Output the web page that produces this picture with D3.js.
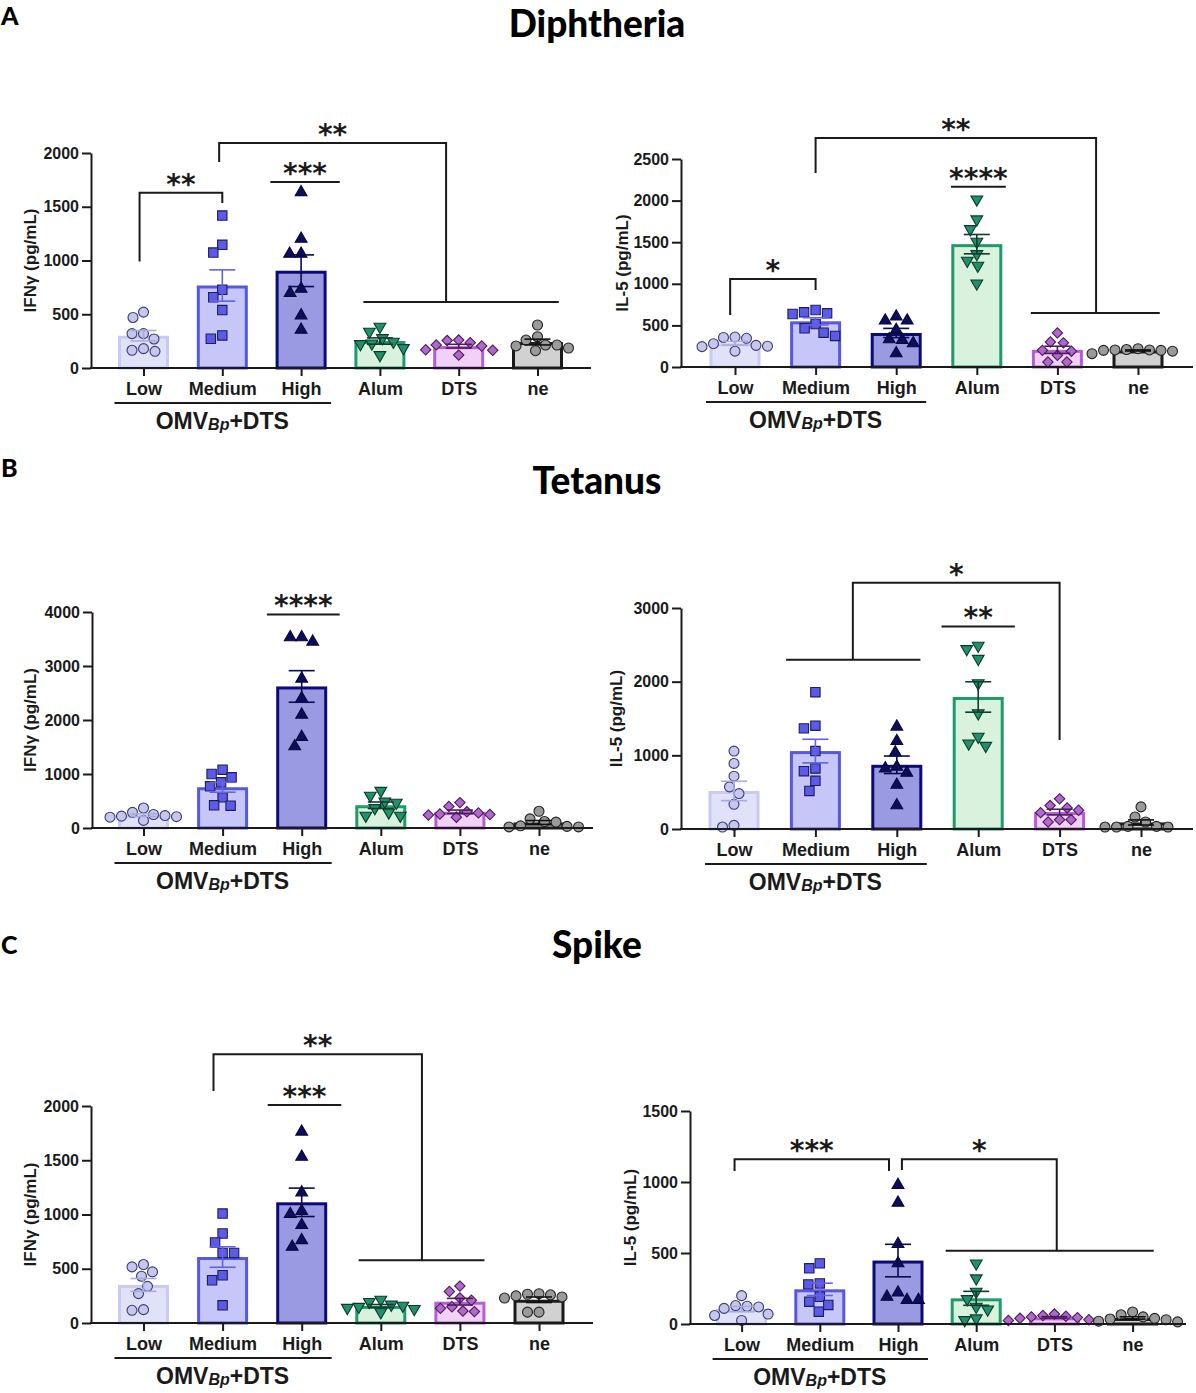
<!DOCTYPE html>
<html>
<head>
<meta charset="utf-8">
<script src="https://cdn.jsdelivr.net/npm/d3@7"></script>
<style>
  body { margin: 0; background: #fff; }
  svg { display: block; }
  .tick text { font-family: "Liberation Sans", Arial, sans-serif; font-weight: bold; fill: #1a1a1a; }
</style>
</head>
<body>
<div id="chart"></div>
<script>
// ---- data ----
const categories = ["Low", "Medium", "High", "Alum", "DTS", "ne"];

const diphIFNg = [
  [520, 470, 320, 320, 270, 180, 165, 155],
  [1418, 1146, 1074, 728, 659, 539, 303, 272],
  [1635, 1201, 1062, 1062, 737, 697, 489, 356],
  [384, 338, 279, 245, 229, 223, 186, 121],
  [260, 255, 235, 215, 205, 170, 165, 120],
  [400, 291, 260, 214, 214, 205, 186, 161]
];
const diphIL5 = [
  [360, 355, 345, 280, 260, 250, 245, 190],
  [685, 657, 645, 637, 517, 465, 413, 373],
  [605, 557, 557, 445, 333, 325, 284, 164],
  [2015, 1775, 1658, 1506, 1358, 1278, 1218, 1005],
  [410, 300, 290, 200, 190, 140, 60, 60],
  [220, 210, 205, 205, 200, 200, 190, 160]
];
const tetIFNg = [
  [370, 290, 250, 230, 220, 210, 200, 140],
  [1080, 1000, 938, 846, 772, 568, 420, 413],
  [3530, 3530, 3450, 2765, 2400, 2098, 1685, 1512],
  [690, 600, 490, 470, 370, 290, 230, 230],
  [470, 400, 300, 280, 260, 250, 240, 200],
  [310, 170, 120, 110, 40, 30, 20, 20]
];
const tetIL5 = [
  [1058, 890, 717, 572, 481, 336, 50, 27],
  [1857, 1403, 1366, 1058, 822, 785, 654, 517],
  [1389, 1194, 1039, 844, 822, 763, 600, 322],
  [2488, 2443, 2311, 1979, 1571, 1253, 1162, 1130],
  [409, 318, 286, 254, 222, 127, 127, 95],
  [300, 163, 95, 36, 36, 27, 27, 27]
];
const spikeIFNg = [
  [539, 517, 471, 431, 338, 271, 123, 117],
  [1009, 825, 742, 646, 646, 440, 394, 163],
  [1763, 1532, 1203, 1031, 1003, 902, 763, 702],
  [215, 195, 170, 160, 150, 140, 130, 100],
  [340, 290, 230, 210, 150, 135, 110, 105],
  [270, 265, 260, 250, 240, 230, 100, 100]
];
const spikeIL5 = [
  [200, 130, 125, 120, 110, 70, 60, 25],
  [427, 392, 286, 279, 192, 157, 134, 87],
  [979, 854, 563, 427, 221, 192, 169, 169],
  [427, 322, 228, 176, 122, 103, 40, 28],
  [70, 60, 55, 50, 45, 40, 30, 25],
  [85, 65, 50, 40, 35, 30, 20, 15]
];

// significance marks: points are [category index, value]
const diphIFNgSig = [
  { pts: [[-0.05, 990], [-0.05, 1630], [1, 1630], [1, 1535]], label: "**" },
  { pts: [[1.61, 1730], [2.49, 1730]], label: "***" },
  { pts: [[0.96, 1916], [0.96, 2093], [3.84, 2093], [3.84, 614]], label: "**" },
  { pts: [[2.79, 614], [5.27, 614]] }
];
const diphIL5Sig = [
  { pts: [[-0.06, 625], [-0.06, 1058], [1, 1058], [1, 925]], label: "*" },
  { pts: [[2.68, 2167], [3.36, 2167]], label: "****" },
  { pts: [[1, 2332], [1, 2753], [4.48, 2753], [4.48, 649]], label: "**" },
  { pts: [[3.67, 649], [5.27, 649]] }
];
const tetIFNgSig = [
  { pts: [[1.56, 3956], [2.48, 3956]], label: "****" }
];
const tetIL5Sig = [
  { pts: [[2.55, 2749], [3.45, 2749]], label: "**" },
  { pts: [[0.64, 2296], [2.29, 2296]] },
  { pts: [[1.46, 2296], [1.46, 3344], [4.0, 3344], [4.0, 1207]], label: "*" }
];
const spikeIFNgSig = [
  { pts: [[0.885, 2138], [0.885, 2477], [3.52, 2477], [3.52, 579]], label: "**" },
  { pts: [[2.72, 579], [4.31, 579]] },
  { pts: [[1.57, 2009], [2.5, 2009]], label: "***" }
];
const spikeIL5Sig = [
  { pts: [[-0.09, 1077], [-0.09, 1160], [1.885, 1160], [1.885, 1077]], label: "***" },
  { pts: [[2.05, 1085], [2.05, 1160], [4.03, 1160], [4.03, 516]], label: "*" },
  { pts: [[2.61, 516], [5.27, 516]] }
];

// ---- styles ----
const groupStyle = [
  { barFill: "#e1e1fa", barStroke: "#c9c9f2", ptFill: "#c6c6ef", ptStroke: "#3c3c70", err: "#a9a9e2", shape: "circle" },
  { barFill: "#c6c6f8", barStroke: "#5757e2", ptFill: "#5b5be8", ptStroke: "#1c1c60", err: "#6262e2", shape: "square" },
  { barFill: "#9a9ae2", barStroke: "#0b0b78", ptFill: "#0d0d5e", ptStroke: "#07073a", err: "#0b0b50", shape: "triangle" },
  { barFill: "#d9f2dd", barStroke: "#1f9b6b", ptFill: "#22906c", ptStroke: "#0b3a28", err: "#103c2c", shape: "down" },
  { barFill: "#f1d2f6", barStroke: "#b45fd0", ptFill: "#b168cd", ptStroke: "#4a1b5a", err: "#4a1b5a", shape: "diamond" },
  { barFill: "#d1d1d1", barStroke: "#1a1a1a", ptFill: "#9a9a9a", ptStroke: "#222", err: "#111", shape: "circle" }
];

const sections = [
  { letter: "A", title: "Diphtheria", letterY: 25, titleY: 37 },
  { letter: "B", title: "Tetanus", letterY: 477, titleY: 494 },
  { letter: "C", title: "Spike", letterY: 954, titleY: 958 }
];

const panels = [
  { data: diphIFNg, sig: diphIFNgSig, yLabel: "IFNγ (pg/mL)", ymax: 2000, step: 500,
    ax: 91, xEnd: 591, y0: 368, yTop: 153, c0: 143.5, dx: 78.8, yLabX: 30 },
  { data: diphIL5, sig: diphIL5Sig, yLabel: "IL-5 (pg/mL)", ymax: 2500, step: 500,
    ax: 681, xEnd: 1193, y0: 367, yTop: 159, c0: 735, dx: 80.6, yLabX: 622 },
  { data: tetIFNg, sig: tetIFNgSig, yLabel: "IFNγ (pg/mL)", ymax: 4000, step: 1000,
    ax: 92, xEnd: 593, y0: 828, yTop: 612, c0: 143.5, dx: 79.1, yLabX: 30 },
  { data: tetIL5, sig: tetIL5Sig, yLabel: "IL-5 (pg/mL)", ymax: 3000, step: 1000,
    ax: 681, xEnd: 1193, y0: 829, yTop: 608, c0: 734, dx: 81.4, yLabX: 616 },
  { data: spikeIFNg, sig: spikeIFNgSig, yLabel: "IFNγ (pg/mL)", ymax: 2000, step: 500,
    ax: 91, xEnd: 593, y0: 1323, yTop: 1106, c0: 143.5, dx: 79.1, yLabX: 30 },
  { data: spikeIL5, sig: spikeIL5Sig, yLabel: "IL-5 (pg/mL)", ymax: 1500, step: 500,
    ax: 690, xEnd: 1186, y0: 1324, yTop: 1111, c0: 741.6, dx: 78.2, yLabX: 630 }
];

const W = 1196, H = 1393;
const BAR_W = 51;
const AXIS_FONT = '"Liberation Sans", Arial, sans-serif';
const TITLE_FONT = 'Lato, "Open Sans", sans-serif';
const STAR_FONT = '"DejaVu Sans", sans-serif';
const INK = "#1a1a1a";

const svg = d3.select("#chart").append("svg")
  .attr("width", W).attr("height", H);

// section headings
sections.forEach(s => {
  svg.append("text").attr("x", 1).attr("y", s.letterY)
    .attr("font-family", TITLE_FONT).attr("font-weight", 900).attr("font-size", 25)
    .attr("fill", "#000").text(s.letter);
  svg.append("text").attr("x", 597).attr("y", s.titleY).attr("text-anchor", "middle")
    .attr("font-family", TITLE_FONT).attr("font-weight", 900).attr("font-size", 37)
    .attr("fill", "#000").text(s.title);
});

function symbolPath(shape) {
  switch (shape) {
    case "square": return d3.symbol(d3.symbolSquare, 88)();
    case "triangle": return d3.symbol(d3.symbolTriangle, 60)();
    case "down": return d3.symbol(d3.symbolTriangle, 60)();
    case "diamond": return d3.symbol(d3.symbolSquare, 54)();
    default: return d3.symbol(d3.symbolCircle, 78)();
  }
}
function symbolRotate(shape) {
  if (shape === "down") return 180;
  if (shape === "diamond") return 45;
  return 0;
}

// simple beeswarm: nearest free horizontal offset for each point
function swarm(values, y, diam) {
  const placed = [];
  return values.map(v => {
    const py = y(v);
    let off = 0;
    for (let k = 0; k < 400; k++) {
      const cand = (k % 2 ? -1 : 1) * Math.ceil(k / 2) * 0.5;
      const hit = placed.some(p => (p.x - cand) ** 2 + (p.y - py) ** 2 < diam * diam);
      if (!hit) { off = cand; break; }
    }
    placed.push({ x: off, y: py });
    return { v, off, py };
  });
}

panels.forEach(p => {
  const g = svg.append("g");
  const y = d3.scaleLinear().domain([0, p.ymax]).range([p.y0, p.yTop]);
  const x = d3.scalePoint().domain(categories).range([p.c0, p.c0 + 5 * p.dx]);
  const xi = d3.scaleLinear().domain([0, 5]).range([p.c0, p.c0 + 5 * p.dx]);

  // bars
  p.data.forEach((vals, i) => {
    const st = groupStyle[i];
    const cx = x(categories[i]);
    const mean = d3.mean(vals);
    const sem = d3.deviation(vals) / Math.sqrt(vals.length);
    g.append("rect")
      .attr("x", cx - BAR_W / 2 + 1.5).attr("width", BAR_W - 3)
      .attr("y", y(mean) + 1.5).attr("height", Math.max(0, p.y0 - y(mean) - 1.5))
      .attr("fill", st.barFill).attr("stroke", st.barStroke).attr("stroke-width", 3);

    // points
    const pts = swarm(vals, y, 11.5);
    g.selectAll(null).data(pts).join("path")
      .attr("d", symbolPath(st.shape))
      .attr("transform", d => `translate(${cx + d.off},${d.py}) rotate(${symbolRotate(st.shape)})`)
      .attr("fill", st.ptFill).attr("stroke", st.ptStroke).attr("stroke-width", 1.1);

    // SEM error bar
    const eg = g.append("g").attr("stroke", st.err).attr("stroke-width", 1.6).attr("fill", "none");
    eg.append("line").attr("x1", cx).attr("x2", cx).attr("y1", y(mean - sem)).attr("y2", y(mean + sem));
    [mean - sem, mean + sem].forEach(v => {
      eg.append("line").attr("x1", cx - 13).attr("x2", cx + 13).attr("y1", y(v)).attr("y2", y(v));
    });
  });

  // y axis
  const yAxis = g.append("g").attr("transform", `translate(${p.ax},0)`)
    .call(d3.axisLeft(y).tickValues(d3.range(0, p.ymax + 1, p.step))
      .tickFormat(d3.format("d")).tickSize(9).tickSizeOuter(0).tickPadding(3));
  yAxis.selectAll("path, line").attr("stroke", INK).attr("stroke-width", 2);
  yAxis.selectAll("text").attr("font-size", 16).attr("fill", INK);

  // x axis
  g.append("line").attr("x1", p.ax - 1).attr("x2", p.xEnd)
    .attr("y1", p.y0).attr("y2", p.y0).attr("stroke", INK).attr("stroke-width", 2.2);
  const xAxis = g.append("g").attr("transform", `translate(0,${p.y0})`)
    .call(d3.axisBottom(x).tickSize(8).tickPadding(6));
  xAxis.select(".domain").remove();
  xAxis.selectAll("line").attr("stroke", INK).attr("stroke-width", 2);
  xAxis.selectAll("text").attr("font-size", 18).attr("fill", INK);

  // group underline + label
  g.append("line").attr("x1", x("Low") - 29).attr("x2", x("High") + 30)
    .attr("y1", p.y0 + 35).attr("y2", p.y0 + 35).attr("stroke", INK).attr("stroke-width", 2);
  const om = g.append("text").attr("x", x("Medium")).attr("y", p.y0 + 61)
    .attr("text-anchor", "middle").attr("font-family", AXIS_FONT).attr("font-weight", "bold")
    .attr("font-size", 23).attr("fill", INK);
  om.append("tspan").text("OMV");
  om.append("tspan").attr("font-size", 16).attr("font-style", "italic").attr("dy", 1).text("Bp");
  om.append("tspan").attr("dy", -1).text("+DTS");

  // y label
  g.append("text")
    .attr("transform", `translate(${p.yLabX + 6},${(p.y0 + p.yTop) / 2}) rotate(-90)`)
    .attr("text-anchor", "middle").attr("font-family", AXIS_FONT).attr("font-weight", "bold")
    .attr("font-size", 17).attr("fill", INK).text(p.yLabel);

  // significance brackets
  p.sig.forEach(s => {
    const line = d3.line().x(d => xi(d[0])).y(d => y(d[1]));
    g.append("path").attr("d", line(s.pts)).attr("fill", "none")
      .attr("stroke", INK).attr("stroke-width", 2);
    if (s.label) {
      const top = d3.max(s.pts, d => d[1]);
      const xs = s.pts.filter(d => d[1] === top).map(d => xi(d[0]));
      const mx = (d3.min(xs) + d3.max(xs)) / 2;
      g.append("text").attr("x", mx).attr("y", y(top) + 1)
        .attr("text-anchor", "middle").attr("font-family", STAR_FONT).attr("font-weight", "bold")
        .attr("font-size", 28).attr("fill", INK).text(s.label);
    }
  });
});
</script>
</body>
</html>
